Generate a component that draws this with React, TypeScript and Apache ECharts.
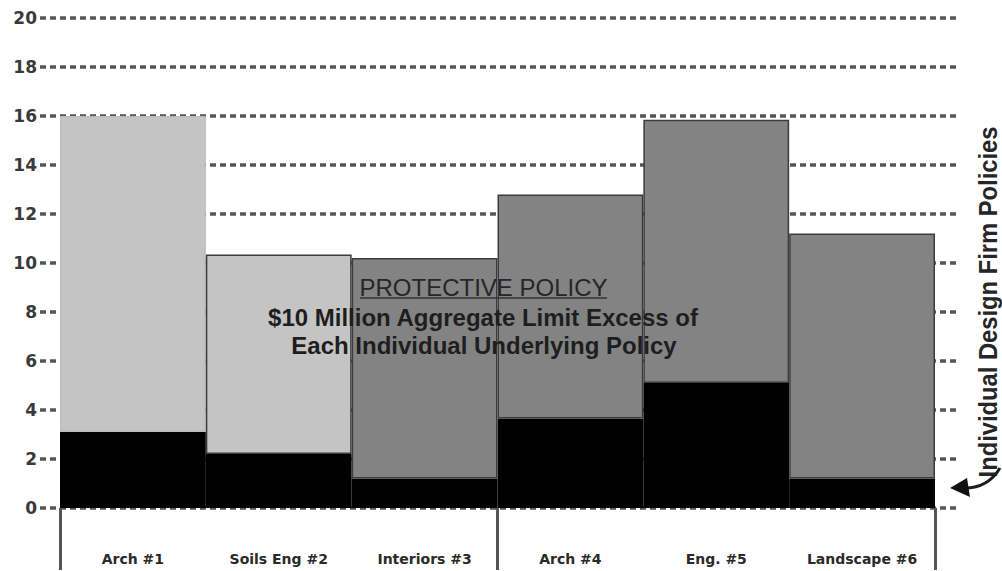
import React, { useEffect, useRef } from "react";
import * as echarts from "echarts";

const categories = ["Arch #1", "Soils Eng #2", "Interiors #3", "Arch #4", "Eng. #5", "Landscape #6"];
const underlyingLimits = [3.1, 2.2, 1.2, 3.65, 5.1, 1.2];
const excessLayer = [12.9, 8.15, 9.0, 9.15, 10.75, 10.0];
const excessColors = ["#c4c4c4", "#c4c4c4", "#838383", "#838383", "#838383", "#838383"];
const excessBorders = ["#bcbcbc", "#3c3c3c", "#3c3c3c", "#3c3c3c", "#3c3c3c", "#3c3c3c"];
const yMin = 0;
const yMax = 20;
const yStep = 2;
const groupBoundaries = { min: 0, max: 6, step: 3 };
const protectiveTitle = "PROTECTIVE POLICY";
const protectiveLines = ["$10 Million Aggregate Limit Excess of", "Each Individual Underlying Policy"];
const sideNote = "Individual Design Firm Policies";

export default function App() {
  const ref = useRef<HTMLDivElement>(null);
  useEffect(() => {
    if (!ref.current) return;
    const chart = echarts.init(ref.current, undefined, { renderer: "svg" });
    const gridTop = 18;
    const gridBottom = 63;
    chart.setOption({
      animation: false,
      backgroundColor: "#ffffff",
      grid: [
        { left: 40, right: 42, top: gridTop, bottom: gridBottom },
        { left: 60, right: 67, top: gridTop, bottom: gridBottom },
      ],
      xAxis: [
        { gridIndex: 0, type: "value", min: 0, max: 1, show: false },
        {
          gridIndex: 1,
          type: "category",
          data: categories,
          position: "bottom",
          axisLine: { show: false },
          axisTick: { show: false },
          axisLabel: {
            margin: 44,
            fontFamily: "DejaVu Sans",
            fontWeight: "bold",
            fontSize: 14,
            color: "#2a2a2a",
          },
        },
        {
          gridIndex: 1,
          type: "value",
          position: "bottom",
          min: groupBoundaries.min,
          max: groupBoundaries.max,
          interval: groupBoundaries.step,
          axisLine: { show: false },
          axisLabel: { show: false },
          splitLine: { show: false },
          axisTick: { show: true, length: 62, lineStyle: { color: "#555555", width: 3 } },
        },
      ],
      yAxis: [
        {
          gridIndex: 0,
          type: "value",
          min: yMin,
          max: yMax,
          interval: yStep,
          axisLine: { show: false },
          axisTick: { show: false },
          axisLabel: {
            margin: 3,
            fontFamily: "DejaVu Sans",
            fontWeight: "bold",
            fontSize: 17,
            color: "#3a3a3a",
          },
          splitLine: {
            show: true,
            lineStyle: { color: "#565656", width: 3.5, type: [6, 4] },
          },
        },
        { gridIndex: 1, type: "value", min: yMin, max: yMax, interval: yStep, show: false, splitLine: { show: false } },
      ],
      series: [
        {
          type: "bar",
          name: "Underlying",
          xAxisIndex: 1,
          yAxisIndex: 1,
          stack: "total",
          barCategoryGap: "0%",
          data: underlyingLimits,
          itemStyle: { color: "#000000" },
          z: 3,
        },
        {
          type: "bar",
          name: "Excess",
          xAxisIndex: 1,
          yAxisIndex: 1,
          stack: "total",
          barCategoryGap: "0%",
          data: excessLayer.map((v, i) => ({
            value: v,
            itemStyle: { color: excessColors[i], borderColor: excessBorders[i], borderWidth: 1.5 },
          })),
          z: 3,
        },
      ],
      graphic: [
        {
          type: "text",
          x: 483.5,
          y: 287,
          z: 100,
          style: {
            text: protectiveTitle,
            fontFamily: "Liberation Sans",
            fontSize: 24,
            fill: "#262626",
            textAlign: "center",
            textVerticalAlign: "middle",
          },
        },
        {
          type: "line",
          z: 100,
          shape: { x1: 360, y1: 298, x2: 607, y2: 298 },
          style: { stroke: "#333333", lineWidth: 1.5 },
        },
        {
          type: "text",
          x: 483,
          y: 317,
          z: 100,
          style: {
            text: protectiveLines[0],
            fontFamily: "Liberation Sans",
            fontWeight: "bold",
            fontSize: 24,
            fill: "#1e1e1e",
            textAlign: "center",
            textVerticalAlign: "middle",
          },
        },
        {
          type: "text",
          x: 484,
          y: 345,
          z: 100,
          style: {
            text: protectiveLines[1],
            fontFamily: "Liberation Sans",
            fontWeight: "bold",
            fontSize: 24,
            fill: "#1e1e1e",
            textAlign: "center",
            textVerticalAlign: "middle",
          },
        },
        {
          type: "text",
          x: 988,
          y: 302,
          rotation: Math.PI / 2,
          scaleX: 0.95,
          z: 100,
          style: {
            text: sideNote,
            fontFamily: "Liberation Sans",
            fontWeight: "bold",
            fontSize: 25,
            fill: "#262626",
            textAlign: "center",
            textVerticalAlign: "middle",
          },
        },
        {
          type: "bezierCurve",
          z: 100,
          shape: { x1: 965, y1: 488, cpx1: 988, cpy1: 488, x2: 1000, y2: 468 },
          style: { stroke: "#1e1e1e", lineWidth: 3, fill: null },
        },
        {
          type: "polygon",
          z: 100,
          shape: { points: [[950, 488], [967, 478], [970, 497]] },
          style: { fill: "#111111" },
        },
      ],
    });
    return () => chart.dispose();
  }, []);
  return <div ref={ref} style={{ width: 1002, height: 571, position: "absolute", left: 0, top: 0 }} />;
}
